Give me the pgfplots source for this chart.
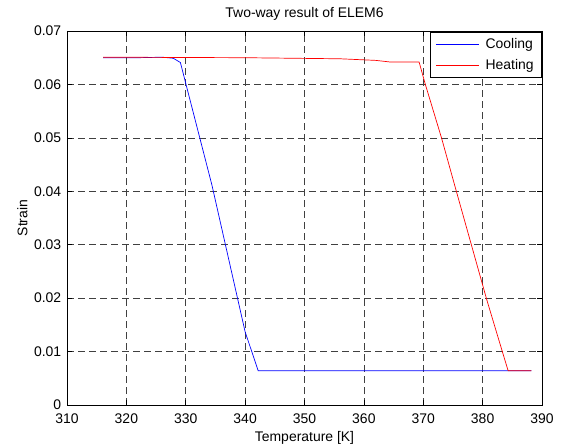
\documentclass[border=0pt]{standalone}
\usepackage{pgfplots}
\pgfplotsset{compat=1.18}
\usepackage{fontspec}
\setmainfont{Liberation Sans}
\begin{document}
\fontsize{14}{16}\selectfont
\begin{tikzpicture}
\begin{axis}[
  scale only axis,
  width=475bp, height=374bp,
  xmin=310, xmax=390, ymin=0, ymax=0.07,
  xtick={310,320,...,390},
  ytick={0,0.01,...,0.07},
  scaled y ticks=false,
  yticklabels={0,0.01,0.02,0.03,0.04,0.05,0.06,0.07},
  /pgf/number format/assume math mode=true,
  tick label style={font=\fontsize{14}{16}\selectfont},
  xticklabel style={yshift=-4bp},
  yticklabel style={xshift=-1bp},
  tick align=inside,
  major tick length=5bp,
  grid=major,
  major grid style={black!75, dash pattern=on 7bp off 4bp, line width=0.6pt},
  axis line style={black, line width=0.6pt},
  tick style={black, line width=0.6pt},
  title={Two-way result of ELEM6},
  title style={at={(0.5,1)}, yshift=0bp, font=\fontsize{14}{16}\selectfont},
  xlabel={Temperature [K]},
  ylabel={Strain},
  label style={font=\fontsize{14}{16}\selectfont},
  xlabel style={yshift=2bp},
  ylabel style={yshift=-3bp},
  legend style={at={(1,1)}, anchor=north east, yshift=-1bp, draw=black, line width=0.6pt, font=\fontsize{14}{16}\selectfont, row sep=5bp, inner xsep=6bp, inner ysep=4bp, column sep=4bp},
  legend cell align=left,
  legend image code/.code={\draw[#1] (0bp,0bp) -- (43bp,0bp);},
]
\addplot[blue, line width=0.7pt] coordinates {
(316.1,0.0650) (322,0.0650) (326,0.0651) (327.9,0.0649) (329.1,0.0641) (330.0,0.0602) (334.4,0.0412) (340.0,0.0137) (342.2,0.0064) (360,0.0064) (388.2,0.0064)
};
\addlegendentry{Cooling}
\addplot[red, line width=0.7pt] coordinates {
(316.1,0.0651) (340,0.0650) (356,0.0648) (362,0.0645) (364.4,0.0642) (369.3,0.0642) (370.3,0.0602) (373.1,0.0499) (375.6,0.0399) (378.1,0.0300) (380.7,0.0197) (383.4,0.0097) (384.3,0.0064) (388.2,0.0064)
};
\addlegendentry{Heating}
\end{axis}
\pgfresetboundingbox
\path (current axis.south west) ++(-67bp,-41bp) coordinate (bl);
\path (current axis.north east) ++(21bp,31bp) coordinate (tr);
\path[use as bounding box] (bl) rectangle (tr);
\end{tikzpicture}
\end{document}
